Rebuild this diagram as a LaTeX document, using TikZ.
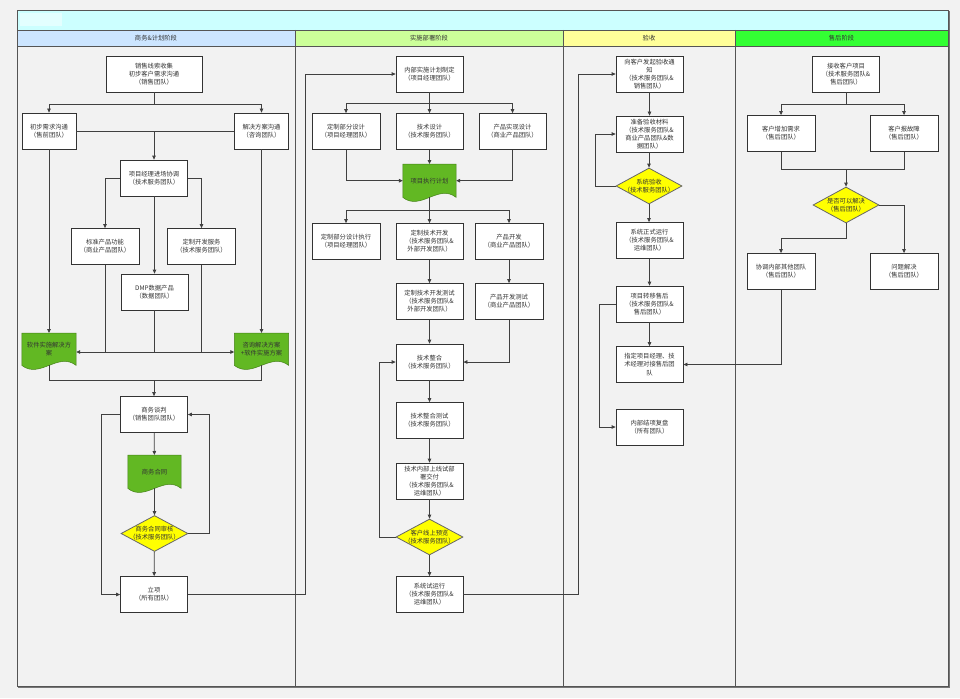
\documentclass[tikz,border=0pt]{standalone}
\usepackage{fontspec}
\setmainfont{Noto Sans CJK SC}
\usetikzlibrary{arrows.meta,shapes.geometric,shadows}
\definecolor{bgc}{HTML}{F2F2F2}
\definecolor{titlec}{HTML}{CCFFFF}
\definecolor{h1c}{HTML}{CCE5FF}
\definecolor{h2c}{HTML}{CCFF99}
\definecolor{h3c}{HTML}{FFFF99}
\definecolor{h4c}{HTML}{33FF33}
\definecolor{framec}{HTML}{555555}
\definecolor{boxc}{HTML}{333333}
\definecolor{linec}{HTML}{404040}
\definecolor{txtc}{HTML}{333333}
\definecolor{docg}{HTML}{62B823}
\definecolor{diaf}{HTML}{FFFF00}
\definecolor{diac}{HTML}{666666}
\newcommand\fs{\fontsize{6.3}{8.1}\selectfont}
\tikzset{
  box/.style={draw=boxc, fill=white, line width=0.8pt, minimum width=67pt,
    minimum height=36pt, inner sep=1pt, align=center, font=\fs, text=txtc,
    drop shadow={shadow xshift=0.9pt, shadow yshift=-0.9pt, opacity=0.35, fill=black}},
  nbox/.style={box, minimum width=54pt},
  line/.style={draw=linec, line width=0.8pt},
  arr/.style={line, -{Triangle[length=4pt,width=3.6pt]}},
  arrb/.style={line, {Triangle[length=4pt,width=3.6pt]}-{Triangle[length=4pt,width=3.6pt]}},
  dia/.style={diamond, draw=diac, fill=diaf, line width=0.8pt, minimum width=67pt,
    minimum height=36pt, inner sep=0pt},
  dtext/.style={align=center, font=\fs, text=txtc, inner sep=0pt},
  docbox/.style={draw=none, inner sep=0pt},
  docfill/.style={fill=docg, draw=docg!70!black, line width=0.5pt},
  hdr/.style={font=\fs, text=txtc, inner sep=0pt},
  frame/.style={draw=framec, line width=0.8pt}
}
% name, x, top y, width, height, text
\newcommand{\mydoc}[6]{%
  \node[docbox, minimum width=#4pt, minimum height=#5pt, anchor=north] (#1) at (#2,#3) {};
  \path[docfill] (#1.north west) -- (#1.north east) -- (#1.south east)
     .. controls +(-#4/3,-14) and +(#4/3,14) .. (#1.south west) -- cycle;
  \node[dtext] (#1t) at (#1.center) {#6};
}
\begin{document}
\begin{tikzpicture}[x=1pt,y=-1pt]
\useasboundingbox (0,0) rectangle (960,698);
\fill[bgc] (0,0) rectangle (960,698);
% title bar and headers
\fill[titlec] (17,10) rectangle (948,30);
\fill[white,opacity=0.45] (20,13) rectangle (62,26);
\fill[h1c] (17,30) rectangle (295,46);
\fill[h2c] (295,30) rectangle (563,46);
\fill[h3c] (563,30) rectangle (735,46);
\fill[h4c] (735,30) rectangle (948,46);
\draw[frame] (17,10) rectangle (948,686);
\draw[frame] (17,30) -- (948,30);
\draw[frame] (17,46) -- (948,46);
\draw[frame] (295,30) -- (295,686);
\draw[frame] (563,30) -- (563,686);
\draw[frame] (735,30) -- (735,686);
\draw[draw=framec!80, line width=0.6pt] (18,687.2) -- (948.8,687.2) -- (948.8,11);
\node[hdr] (hd1) at (156,38) {商务\&计划阶段};
\node[hdr] (hd2) at (429,38) {实施部署阶段};
\node[hdr] (hd3) at (649,38) {验收};
\node[hdr] (hd4) at (841.5,38) {售后阶段};

% ---------- column 1 ----------
\node[box, minimum width=96pt] (s1) at (154,74) {销售线索收集\\初步客户需求沟通\\（销售团队）};
\node[nbox] (s2) at (49,131) {初步需求沟通\\（售前团队）};
\node[nbox] (s3) at (261.5,131) {解决方案沟通\\（咨询团队）};
\node[box] (s4) at (154,178) {项目经理进场协调\\（技术服务团队）};
\node[box, minimum width=68pt] (s5) at (105,246.5) {标准产品功能\\（商业产品团队）};
\node[box, minimum width=68pt] (s6) at (201.5,246.5) {定制开发服务\\（技术服务团队）};
\node[box] (s7) at (154.5,292) {DMP数据产品\\（数据团队）};
\mydoc{s8}{49}{333}{54}{32}{软件实施解决方\\案}
\mydoc{s9}{261.5}{333}{54}{32}{咨询解决方案\\+软件实施方案}
\node[box] (s10) at (154,414.5) {商务谈判\\（销售团队团队）};
\mydoc{s11}{154.5}{455}{53}{33}{商务合同}
\node[dia] (s12) at (154.5,533.5) {};
\node[dtext] (s12t) at (s12) {商务合同审核\\（技术服务团队）};
\node[box] (s13) at (154,594.5) {立项\\（所有团队）};

\coordinate (b1) at (154,104);
\draw[line] (s1) -- (b1);
\draw[arr] (b1) -| (s2);
\draw[arr] (b1) -| (s3);
\draw[line] (s2.east) -- (s3.west);
\draw[arr] (s4.north |- s2.east) -- (s4.north);
\draw[arr] (s4.west) -| (s5.north);
\draw[arr] (s4.east) -| (s6.north);
\draw[arr] (s4.south -| s7.north) -- (s7.north);
\draw[arr] (s2) -- (s8);
\draw[arr] (s3) -- (s9);
\coordinate (h2) at (154.5,352);
\draw[arrb] (s8.east |- h2) -- (s9.west |- h2);
\draw[line] (s5.south) -- (s5.south |- h2);
\draw[line] (s7.south) -- (h2);
\draw[line] (s6.south) -- (s6.south |- h2);
\coordinate (h3) at (154,380);
\draw[line] (s8.south) -- (s8.south |- h3) -- (s9.south |- h3) -- (s9.south);
\draw[arr] (h3) -- (s10.north);
\draw[arr] (s10) -- (s11);
\draw[arr] (s11.south) -- (s12.north);
\draw[arr] (s12) -- (s13);
\draw[arr] (s12.east) -- ++(21,0) |- (s10.east);
\draw[arr] (s10.west) -- ++(-19,0) |- (s13.west);

% ---------- column 2 ----------
\node[box] (t1) at (429.5,74) {内部实施计划制定\\（项目经理团队）};
\node[box, minimum width=68pt] (t2) at (346,131.5) {定制部分设计\\（项目经理团队）};
\node[box] (t3) at (429.5,131.5) {技术设计\\（技术服务团队）};
\node[box] (t4) at (512.5,131.5) {产品实现设计\\（商业产品团队）};
\mydoc{t5}{429.5}{164}{53}{33}{项目执行计划}
\node[box, minimum width=68pt] (t6) at (346,241.5) {定制部分设计执行\\（项目经理团队）};
\node[box] (t7) at (429.5,241.5) {定制技术开发\\（技术服务团队\&\\外部开发团队）};
\node[box, minimum width=68pt] (t8) at (509,241.5) {产品开发\\（商业产品团队）};
\node[box] (t9) at (429.5,301.5) {定制技术开发测试\\（技术服务团队\&\\外部开发团队）};
\node[box, minimum width=68pt] (t10) at (509,301.5) {产品开发测试\\（商业产品团队）};
\node[box] (t11) at (429.5,362) {技术整合\\（技术服务团队）};
\node[box] (t12) at (429.5,420.5) {技术整合测试\\（技术服务团队）};
\node[box] (t13) at (429.5,481) {技术内部上线试部\\署交付\\（技术服务团队\&\\运维团队）};
\node[dia] (t14) at (429.5,537) {};
\node[dtext] (t14t) at (t14) {客户线上预览\\（技术服务团队）};
\node[box] (t15) at (429.5,594.5) {系统试运行\\（技术服务团队\&\\运维团队）};

\coordinate (lxr) at (305.5,594.5);
\draw[arr] (s13.east) -- (lxr) |- (t1.west);
\coordinate (b2) at (429.5,103);
\draw[line] (t1) -- (b2);
\draw[arr] (b2) -| (t2);
\draw[arr] (b2) -- (t3);
\draw[arr] (b2) -| (t4);
\draw[arr] (t3) -- (t5);
\draw[arr] (t2.south) |- (t5.west);
\draw[arr] (t4.south) |- (t5.east);
\coordinate (b3) at (429.5,210);
\draw[line] (t5.south) -- (b3);
\draw[arr] (b3) -| (t6);
\draw[arr] (b3) -- (t7);
\draw[arr] (b3) -| (t8);
\draw[arr] (t7) -- (t9);
\draw[arr] (t8) -- (t10);
\draw[arr] (t9) -- (t11);
\draw[arr] (t10.south) |- (t11.east);
\draw[arr] (t11) -- (t12);
\draw[arr] (t12) -- (t13);
\draw[arr] (t13) -- (t14);
\draw[arr] (t14) -- (t15);
\draw[arr] (t14.west) -- ++(-16,0) |- (t11.west);

% ---------- column 3 ----------
\node[box] (u1) at (649.5,74) {向客户发起验收通\\知\\（技术服务团队\&\\销售团队）};
\node[box] (u2) at (649.5,134) {准备验收材料\\（技术服务团队\&\\商业产品团队\&数\\据团队）};
\node[dia, minimum width=66pt] (u3) at (649,186) {};
\node[dtext] (u3t) at (u3) {系统验收\\（技术服务团队）};
\node[box] (u4) at (649.5,240.5) {系统正式运行\\（技术服务团队\&\\运维团队）};
\node[box] (u5) at (649.5,304) {项目转移售后\\（技术服务团队\&\\售后团队）};
\node[box] (u6) at (649.5,364.5) {指定项目经理、技\\术经理对接售后团\\队};
\node[box] (u7) at (649.5,427) {内部结项复盘\\（所有团队）};

\coordinate (sr) at (578,594.5);
\draw[arr] (t15.east) -- (sr) |- (u1.west);
\draw[arr] (u1) -- (u2);
\draw[arr] (u2.south -| u3.north) -- (u3.north);
\draw[arr] (u3.south) -- (u4.north -| u3.south);
\draw[arr] (u4) -- (u5);
\draw[arr] (u5) -- (u6);
\draw[arr] (u3.west) -- ++(-20,0) |- (u2.west);
\draw[arr] (u5.west) -- ++(-16,0) |- (u7.west);

% ---------- column 4 ----------
\node[box] (v1) at (846,74) {接收客户项目\\（技术服务团队\&\\售后团队）};
\node[box, minimum width=68pt] (v2) at (781,133.5) {客户增加需求\\（售后团队）};
\node[box, minimum width=68pt] (v3) at (904,133.5) {客户报故障\\（售后团队）};
\node[dia, minimum width=66pt] (v4) at (846,205) {};
\node[dtext] (v4t) at (v4) {是否可以解决\\（售后团队）};
\node[box, minimum width=68pt] (v5) at (781,271.5) {协调内部其他团队\\（售后团队）};
\node[box, minimum width=68pt] (v6) at (904,271.5) {问题解决\\（售后团队）};

\coordinate (b4) at (846,104);
\draw[line] (v1) -- (b4);
\draw[arr] (b4) -| (v2);
\draw[arr] (b4) -| (v3);
\coordinate (b5) at (846,169);
\draw[line] (v2.south) |- (b5);
\draw[line] (v3.south) |- (b5);
\draw[arr] (b5) -- (v4.north);
\draw[arr] (v4.east) -| (v6.north);
\draw[arr] (v4.south) -- (846,238) -| (v5.north);
\draw[arr] (v5.south) |- (u6.east);
\end{tikzpicture}
\end{document}
